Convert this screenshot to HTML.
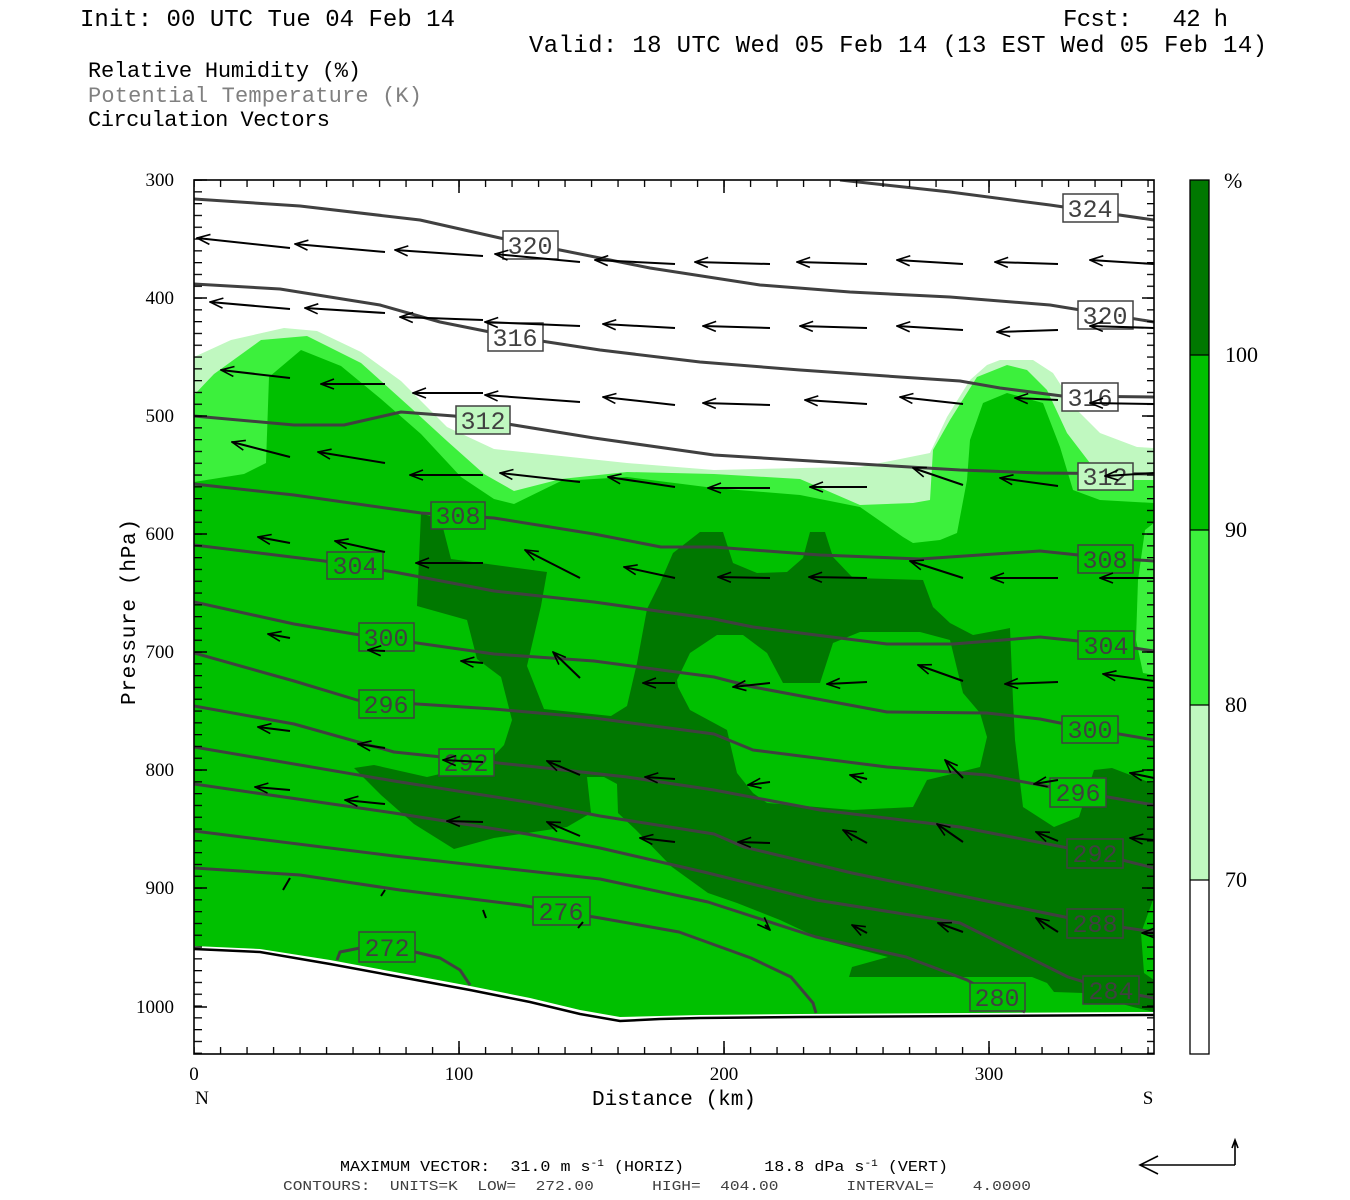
<!DOCTYPE html>
<html><head><meta charset="utf-8"><style>
html,body{margin:0;padding:0;background:#fff;}
svg{display:block;}
svg text{white-space:pre;}
</style></head><body>
<svg width="1350" height="1200" viewBox="0 0 1350 1200" xmlns="http://www.w3.org/2000/svg" xml:space="preserve" font-family="Liberation Mono, monospace">
<defs>
<marker id="ah" markerWidth="16" markerHeight="12" refX="1" refY="6" orient="auto" markerUnits="userSpaceOnUse">
<path d="M14,1 L1,6 L14,11" fill="none" stroke="#000" stroke-width="1.6"/></marker>
<pattern id="ty" x="0" y="179.4" width="30" height="11.8" patternUnits="userSpaceOnUse"><rect x="0" y="0" width="30" height="1.3" fill="#000"/></pattern>
<pattern id="tx" x="193.4" y="0" width="26.5" height="30" patternUnits="userSpaceOnUse"><rect x="0" y="0" width="1.3" height="30" fill="#000"/></pattern>
<clipPath id="cp"><rect x="194" y="180" width="960" height="874"/></clipPath>
</defs>
<rect width="1350" height="1200" fill="#fff"/>

<text x="80" y="26" font-size="24" textLength="375" fill="#000">Init: 00 UTC Tue 04 Feb 14</text>
<text x="1063" y="26" font-size="24" textLength="165" fill="#000">Fcst:   42 h</text>
<text x="529" y="52" font-size="24" textLength="738" fill="#000">Valid: 18 UTC Wed 05 Feb 14 (13 EST Wed 05 Feb 14)</text>
<text x="88" y="77" font-size="22" textLength="273" fill="#000">Relative Humidity (%)</text>
<text x="88" y="102" font-size="22" textLength="334" fill="#808080">Potential Temperature (K)</text>
<text x="88" y="126" font-size="22" textLength="242" fill="#000">Circulation Vectors</text>

<g clip-path="url(#cp)">
<polygon fill="#c0f8c0" points="194,357 231,340 284,328 317,331 361,352 401,381 447,427 494,449 561,456 627,463 714,470 800,468 860,467 930,453 947,417 970,380 987,365 1000,360 1033,360 1053,373 1077,410 1100,433 1137,447 1154,448 1154,1054 194,1054"/>
<polygon fill="#3cf03c" points="194,395 214,374 261,340 307,336 361,363 411,408 447,441 484,474 514,491 561,479 627,472 714,474 800,479 860,505 913,503 930,500 933,450 950,420 977,377 1007,365 1027,370 1047,390 1067,433 1093,467 1120,480 1154,480 1154,1054 194,1054"/>
<polygon fill="#00c000" points="194,482 244,474 266,463 269,377 301,350 341,366 381,399 421,434 461,477 494,499 514,504 561,481 627,477 714,488 800,495 860,507 903,537 913,543 940,540 957,533 967,480 970,440 983,403 1007,393 1043,403 1060,447 1073,490 1100,500 1154,503 1154,1054 194,1054"/>
<polygon fill="#3cf03c" points="1154,523 1145,530 1138,580 1136,640 1143,673 1154,675"/>
<polygon fill="#007800" points="421,513 441,520 451,559 547,572 541,606 527,666 544,709 611,716 627,706 637,663 647,609 660,583 673,553 700,532 723,532 733,563 757,573 787,572 803,558 810,532 825,532 833,557 853,578 923,580 933,607 950,623 973,635 1000,630 1010,628 1013,700 1015,740 1023,807 1054,827 1079,817 1094,770 1112,768 1151,783 1154,783 1154,897 1141,933 1144,973 1154,980 1154,1012 1133,1007 1083,993 1054,992 1047,983 1032,977 849,977 852,967 888,957 823,940 780,920 737,903 708,893 672,867 636,830 618,813 617,784 604,777 587,777 591,813 567,827 494,838 454,849 414,824 381,795 354,768 374,765 427,777 487,763 504,745 512,720 501,677 477,659 467,620 417,606"/>
<polygon fill="#00c000" points="677,680 690,653 717,635 743,635 767,653 783,683 820,683 833,643 860,632 920,632 950,640 963,693 980,713 987,737 980,767 927,780 913,807 853,810 767,803 753,793 737,773 727,730 690,710 678,687"/>

<polygon fill="#fff" points="194,946 260,949 330,960 400,973 470,986 530,998 580,1010 620,1017 660,1016 700,1015 800,1014 1154,1012 1154,1054 194,1054"/>
<polyline fill="none" stroke="#000" stroke-width="2.5" points="194,949 260,952 330,964 400,977 470,990 530,1002 580,1014 620,1021 660,1019 700,1018 800,1017 1154,1015"/>

<g fill="none" stroke="#404040" stroke-width="3" stroke-linejoin="round">
<polyline points="840,180 950,192 1050,205 1154,220"/>
<polyline points="194,199 300,206 420,220 500,238 560,250 650,268 760,285 850,292 950,297 1050,305 1154,322"/>
<polyline points="194,284 280,289 380,305 440,322 515,337 600,350 700,362 800,370 900,377 960,381 1000,388 1062,396 1154,397"/>
<polyline points="194,416 294,425 344,425 401,412 454,416 483,420 594,438 714,455 860,464 960,470 1040,473 1154,474"/>
<polyline points="194,484 294,495 421,513 494,518 594,534 661,547 714,547 820,555 920,559 1040,551 1107,558 1154,561"/>
<polyline points="194,545 324,561 394,572 494,591 594,602 714,619 753,627 887,644 953,644 1040,637 1107,644 1154,651"/>
<polyline points="194,602 294,624 354,634 494,654 594,661 714,677 753,687 887,712 987,713 1040,719 1090,729 1154,740"/>
<polyline points="194,653 294,681 357,700 494,709 594,718 714,734 753,750 887,767 987,775 1040,785 1079,792 1154,805"/>
<polyline points="194,706 294,724 394,752 527,766 627,777 714,790 820,810 960,827 1094,853 1154,868"/>
<polyline points="194,747 394,781 527,802 600,816 714,834 744,847 852,873 996,903 1094,923 1154,932"/>
<polyline points="194,784 394,813 527,834 600,848 708,873 816,900 960,923 1068,977 1110,990 1154,998"/>
<polyline points="194,831 394,856 600,879 708,902 816,937 906,957 967,980 997,997 1025,1012"/>
<polyline points="194,868 300,875 400,890 520,905 600,918 679,932 751,958 791,977 813,1003 816,1013"/>
<polyline points="337,960 340,952 360,948 415,952 440,958 460,970 470,985"/>
</g>

<g stroke="#404040" stroke-width="1.5" font-size="25" fill="#404040" text-anchor="middle">
<rect x="1063" y="194" width="55" height="28" fill="#fff"/><text x="1090" y="217" stroke="none">324</text>
<rect x="503" y="231" width="55" height="28" fill="#fff"/><text x="530" y="254" stroke="none">320</text>
<rect x="1078" y="301" width="55" height="28" fill="#fff"/><text x="1105" y="324" stroke="none">320</text>
<rect x="488" y="323" width="55" height="28" fill="#fff"/><text x="515" y="346" stroke="none">316</text>
<rect x="1062" y="383" width="56" height="28" fill="#fff"/><text x="1090" y="406" stroke="none">316</text>
<rect x="456" y="406" width="54" height="28" fill="#c0f8c0"/><text x="483" y="429" stroke="none">312</text>
<rect x="1078" y="463" width="55" height="27" fill="#c0f8c0"/><text x="1105" y="485" stroke="none">312</text>
<rect x="431" y="502" width="54" height="27" fill="#00c000"/><text x="458" y="524" stroke="none">308</text>
<rect x="1078" y="545" width="55" height="28" fill="#00c000"/><text x="1105" y="568" stroke="none">308</text>
<rect x="327" y="552" width="56" height="27" fill="#00c000"/><text x="355" y="574" stroke="none">304</text>
<rect x="1078" y="631" width="56" height="28" fill="#00c000"/><text x="1106" y="654" stroke="none">304</text>
<rect x="359" y="623" width="55" height="28" fill="#00c000"/><text x="386" y="646" stroke="none">300</text>
<rect x="1062" y="716" width="56" height="27" fill="#00c000"/><text x="1090" y="738" stroke="none">300</text>
<rect x="359" y="690" width="55" height="28" fill="#00c000"/><text x="386" y="713" stroke="none">296</text>
<rect x="1050" y="778" width="56" height="29" fill="#00c000"/><text x="1078" y="801" stroke="none">296</text>
<rect x="439" y="749" width="55" height="27" fill="#00c000"/><text x="466" y="771" stroke="none">292</text>
<rect x="1067" y="839" width="56" height="29" fill="#007800"/><text x="1095" y="862" stroke="none">292</text>
<rect x="1067" y="909" width="56" height="29" fill="#007800"/><text x="1095" y="932" stroke="none">288</text>
<rect x="1083" y="976" width="56" height="28" fill="#007800"/><text x="1111" y="999" stroke="none">284</text>
<rect x="970" y="983" width="55" height="28" fill="#00c000"/><text x="997" y="1006" stroke="none">280</text>
<rect x="533" y="897" width="57" height="28" fill="#00c000"/><text x="561" y="920" stroke="none">276</text>
<rect x="359" y="932" width="56" height="30" fill="#00c000"/><text x="387" y="956" stroke="none">272</text>
</g>

<g stroke="#000" stroke-width="2" fill="none" marker-start="url(#ah)">
<path d="M197,238 L290,248"/><path d="M295,244 L385,252"/><path d="M395,250 L483,256"/><path d="M495,254 L580,262"/><path d="M595,260 L675,264"/><path d="M695,262 L770,264"/><path d="M797,262 L867,264"/><path d="M897,260 L963,264"/><path d="M995,262 L1058,264"/><path d="M1090,260 L1154,264"/>
<path d="M210,302 L290,309"/><path d="M305,308 L385,313"/><path d="M400,317 L483,320"/><path d="M485,322 L580,326"/><path d="M603,324 L675,328"/><path d="M703,326 L770,328"/><path d="M800,326 L867,328"/><path d="M897,326 L963,330"/><path d="M997,332 L1058,330"/><path d="M1090,326 L1154,328"/>
<path d="M221,370 L290,378"/><path d="M321,384 L385,384"/><path d="M413,393 L483,393"/><path d="M485,395 L580,402"/><path d="M603,397 L675,405"/><path d="M703,403 L770,405"/><path d="M805,400 L867,404"/><path d="M900,397 L963,404"/><path d="M1015,398 L1058,400"/><path d="M1090,403 L1154,404"/>
<path d="M232,442 L290,457"/><path d="M318,452 L385,463"/><path d="M410,475 L483,475"/><path d="M500,473 L580,482"/><path d="M608,477 L675,487"/><path d="M708,488 L770,488"/><path d="M810,487 L867,487"/><path d="M913,468 L963,485"/><path d="M1000,478 L1058,486"/><path d="M1105,476 L1154,473"/>
<path d="M258,537 L290,543"/><path d="M335,541 L385,552"/><path d="M416,563 L483,563"/><path d="M525,550 L580,578"/><path d="M624,567 L675,578"/><path d="M718,577 L770,578"/><path d="M809,577 L867,578"/><path d="M910,561 L963,578"/><path d="M991,578 L1058,578"/><path d="M1100,578 L1154,578"/>
<path d="M268,634 L290,638"/><path d="M368,650 L385,651"/><path d="M461,661 L483,663"/><path d="M553,652 L580,678"/><path d="M643,683 L675,683"/><path d="M733,687 L770,683"/><path d="M827,684 L867,682"/><path d="M918,665 L963,681"/><path d="M1005,684 L1058,682"/><path d="M1103,674 L1154,681"/>
<path d="M258,727 L290,731"/><path d="M358,744 L385,748"/><path d="M443,760 L483,762"/><path d="M547,761 L580,775"/><path d="M645,777 L675,779"/><path d="M748,785 L770,782"/><path d="M850,775 L867,779"/><path d="M945,760 L963,778"/><path d="M1034,784 L1058,780"/><path d="M1130,773 L1154,778"/>
<path d="M255,787 L290,790"/><path d="M345,800 L385,804"/><path d="M447,821 L483,822"/><path d="M547,822 L580,836"/><path d="M640,838 L675,842"/><path d="M738,842 L770,843"/><path d="M843,830 L867,843"/><path d="M937,824 L963,842"/><path d="M1036,832 L1058,841"/><path d="M1130,838 L1154,840"/>
<path d="M770,930 L765,925"/><path d="M852,925 L867,933"/><path d="M938,923 L963,932"/><path d="M1036,918 L1058,932"/><path d="M1142,933 L1154,933"/>
</g>
<g stroke="#000" stroke-width="2"><path d="M283,890 L290,878"/><path d="M381,896 L385,890"/><path d="M486,918 L483,910"/><path d="M578,928 L583,922"/></g>
</g>

<rect x="194" y="180" width="960" height="874" fill="none" stroke="#000" stroke-width="1.6"/>
<rect x="194" y="180" width="8" height="875" fill="url(#ty)"/>
<rect x="1147" y="180" width="7" height="875" fill="url(#ty)"/>
<rect x="194" y="1047" width="962" height="7" fill="url(#tx)"/>
<rect x="194" y="180" width="962" height="7" fill="url(#tx)"/>
<g stroke="#000" stroke-width="1.5">
<path d="M194,180h13M194,298h13M194,416h13M194,534h13M194,652h13M194,770h13M194,888h13M194,1007h13"/>
<path d="M1154,298h-12M1154,416h-12M1154,534h-12M1154,652h-12M1154,770h-12M1154,888h-12M1154,1007h-12"/>
<path d="M459,1054v-13M724,1054v-13M989,1054v-13M459,180v13M724,180v13M989,180v13"/>
</g>

<g font-family="Liberation Serif, serif" font-size="19" fill="#000" text-anchor="end">
<text x="174" y="186">300</text><text x="174" y="304">400</text><text x="174" y="422">500</text><text x="174" y="540">600</text><text x="174" y="658">700</text><text x="174" y="776">800</text><text x="174" y="894">900</text><text x="174" y="1013">1000</text>
</g>
<g font-family="Liberation Serif, serif" font-size="19" fill="#000" text-anchor="middle">
<text x="194" y="1080">0</text><text x="459" y="1080">100</text><text x="724" y="1080">200</text><text x="989" y="1080">300</text>
<text x="202" y="1104">N</text><text x="1148" y="1104">S</text>
</g>
<text x="674" y="1105" font-size="21" text-anchor="middle" textLength="164">Distance (km)</text>
<text transform="translate(135,612) rotate(-90)" font-size="21" text-anchor="middle" textLength="186">Pressure (hPa)</text>

<rect x="1190" y="180" width="19" height="175" fill="#007800"/>
<rect x="1190" y="355" width="19" height="175" fill="#00c000"/>
<rect x="1190" y="530" width="19" height="175" fill="#3cf03c"/>
<rect x="1190" y="705" width="19" height="175" fill="#c0f8c0"/>
<rect x="1190" y="880" width="19" height="174" fill="#fff"/>
<g stroke="#000" stroke-width="1.3" fill="none"><rect x="1190" y="180" width="19" height="874"/><path d="M1190,355h19M1190,530h19M1190,705h19M1190,880h19"/></g>
<g font-family="Liberation Serif, serif" font-size="22" fill="#000">
<text x="1224" y="188">%</text><text x="1225" y="362">100</text><text x="1225" y="537">90</text><text x="1225" y="712">80</text><text x="1225" y="887">70</text>
</g>

<text x="340" y="1171" font-size="15" fill="#000" textLength="608" lengthAdjust="spacingAndGlyphs">MAXIMUM VECTOR:  31.0 m s<tspan font-size="10" dy="-5">-1</tspan><tspan dy="5"> (HORIZ)        18.8 dPa s</tspan><tspan font-size="10" dy="-5">-1</tspan><tspan dy="5"> (VERT)</tspan></text>
<text x="283" y="1190" font-size="14" fill="#404040" textLength="748" lengthAdjust="spacingAndGlyphs">CONTOURS:  UNITS=K  LOW=  272.00      HIGH=  404.00       INTERVAL=    4.0000</text>
<g stroke="#000" stroke-width="1.6" fill="none">
<path d="M1235,1165 H1140 M1158,1156 L1140,1165 L1158,1174"/>
<path d="M1235,1165 V1140 M1232,1148 L1235,1140 L1238,1148"/>
</g>
</svg>
</body></html>
